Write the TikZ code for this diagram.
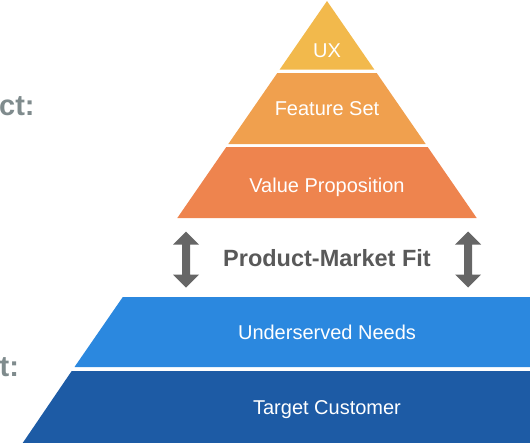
\documentclass[tikz,border=0pt]{standalone}
\usepackage{fontspec}
\setmainfont{Liberation Sans}
\definecolor{cux}{HTML}{F2B94C}
\definecolor{cfeat}{HTML}{F0A04E}
\definecolor{cval}{HTML}{EE844E}
\definecolor{cneed}{HTML}{2B88DF}
\definecolor{ccust}{HTML}{1D5BA5}
\definecolor{sidegray}{HTML}{7F8B8D}
\definecolor{fitgray}{HTML}{595959}
\definecolor{arrgray}{HTML}{666666}
\tikzset{
  band/.style={fill=#1},
  lbl/.style={anchor=base, text=white, font=\fontsize{20}{24}\selectfont, inner sep=0pt},
  side/.style={anchor=base west, text=sidegray, font=\fontsize{29}{34}\selectfont\bfseries, inner sep=0pt},
  dblarr/.pic={\fill[arrgray] (0,-28) -- (13,-15) -- (4,-15) -- (4,15) -- (13,15) -- (0,28) -- (-13,15) -- (-4,15) -- (-4,-15) -- (-13,-15) -- cycle;}
}
\begin{document}
\begin{tikzpicture}[x=1pt,y=-1pt]
\useasboundingbox (0,0) rectangle (530,442);
\clip (0,0) rectangle (530,442);
% upper pyramid
\fill[band=cux] (327,1) -- (374.3,69.5) -- (279.7,69.5) -- cycle;
\fill[band=cfeat] (277.3,73) -- (376.7,73) -- (425.7,144) -- (228.3,144) -- cycle;
\fill[band=cval] (226.3,147) -- (427.7,147) -- (476.7,218) -- (177.3,218) -- cycle;
% lower trapezoid
\fill[band=cneed] (122.8,297) -- (531.2,297) -- (579.5,367) -- (74.5,367) -- cycle;
\fill[band=ccust] (71.7,371) -- (582.3,371) -- (631.3,443) -- (22.7,443) -- cycle;
% labels
\node[lbl] (ux) at (327,57) {UX};
\node[lbl] (feat) at (327,115) {Feature Set};
\node[lbl] (val) at (327,192) {Value Proposition};
\node[lbl] (need) at (327,339) {Underserved Needs};
\node[lbl] (cust) at (327,414) {Target Customer};
\node[anchor=base, text=fitgray, font=\fontsize{23.5}{28}\selectfont\bfseries, inner sep=0pt] (fit) at (327,266) {Product-Market Fit};
\node[side] (prod) at (-1,115) {ct:};
\node[side] (mkt) at (-0.5,376) {t:};
% arrows
\pic at (186,259.5) {dblarr};
\pic at (468,259.5) {dblarr};
\end{tikzpicture}
\end{document}
